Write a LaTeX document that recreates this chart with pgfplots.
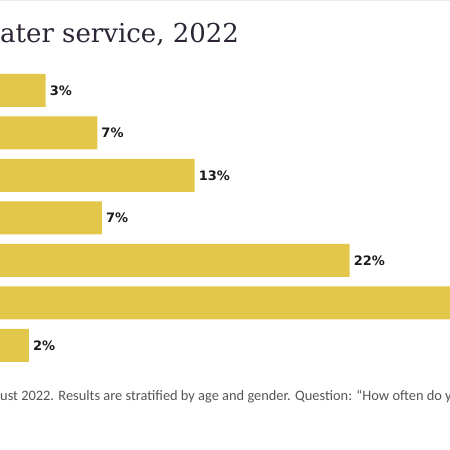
\documentclass[border=0pt]{standalone}
\usepackage{fontspec}
\usepackage{pgfplots}
\usepackage{pgfplotstable}
\pgfplotsset{compat=1.18}
\newfontfamily\titlefont{DejaVu Serif}
\newfontfamily\labelfont{DejaVu Sans}
\newfontfamily\notefont{Carlito}
\definecolor{barcol}{HTML}{E3C74B}
\definecolor{titlecol}{HTML}{2D2535}
\definecolor{notecol}{HTML}{555555}
\definecolor{labcol}{HTML}{1C1C1C}

% position (7 = top row), share (bar length), shown label
\pgfplotstableread[col sep=comma]{
pos,val,lab
7,3.0,3\%
6,6.4,7\%
5,12.8,13\%
4,6.7,7\%
3,23.0,22\%
2,45.0,{}
1,1.9,2\%
}\datatable

\begin{document}
\begin{tikzpicture}[x=1bp,y=1bp]
\useasboundingbox (0,0) rectangle (450,450);
\clip (0,0) rectangle (450,450);
\fill[white] (0,0) rectangle (450,450);
\draw[black!8, line width=1bp] (0,449) -- (450,449);
\node[anchor=base west, inner sep=0, text=titlecol,
      font=\titlefont\fontsize{26bp}{30bp}\selectfont] at (0,407) {ater service, 2022};
\begin{axis}[
  at={(0bp,380.75bp)}, anchor=north west,
  scale only axis, width=450bp, height=297.5bp,
  xbar, bar width=33bp,
  xmin=0, xmax=29.605,
  ymin=0.5, ymax=7.5,
  hide axis,
  point meta=explicit symbolic,
  nodes near coords,
  nodes near coords style={anchor=west, inner sep=0pt, xshift=4bp, text=labcol,
    font=\labelfont\bfseries\fontsize{13bp}{15bp}\selectfont},
]
\addplot[fill=barcol, draw=none] table[x=val, y=pos, meta=lab] {\datatable};
\end{axis}
\node[anchor=base west, inner sep=0, text=notecol,
      font=\notefont\fontsize{14.4bp}{16bp}\selectfont] at (0,49)
  {ust 2022. Results are stratified by age and gender. Question: “How often do you};
\end{tikzpicture}
\end{document}
